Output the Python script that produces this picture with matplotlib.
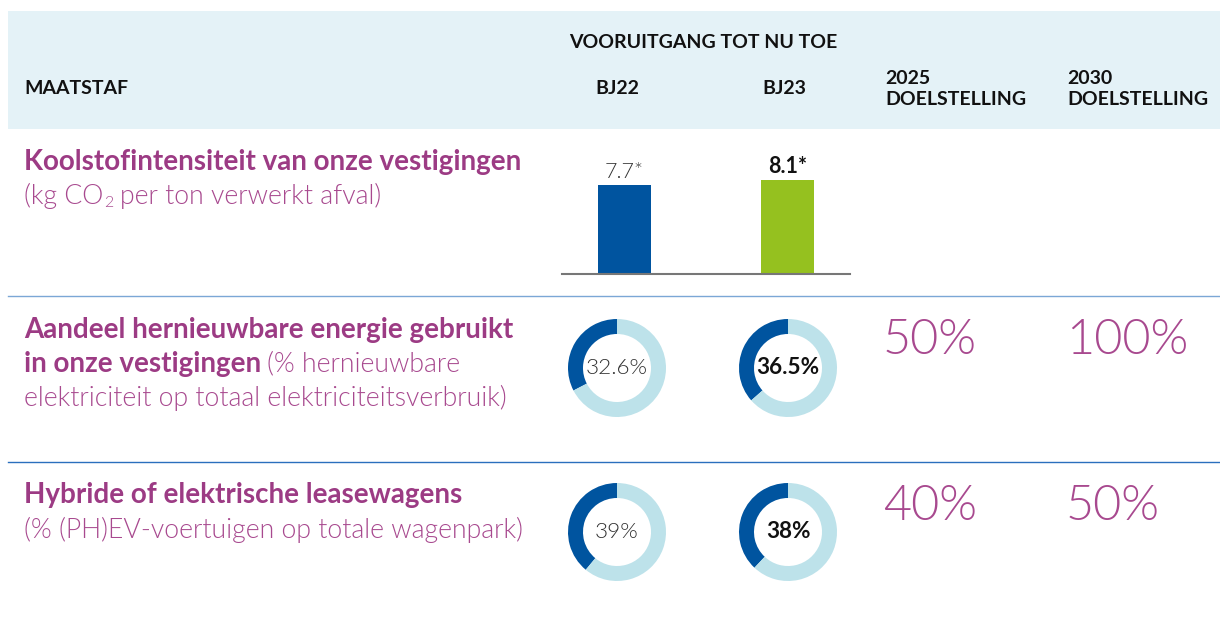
import matplotlib.pyplot as plt

# data
years = ["BJ22", "BJ23"]
carbon = [7.7, 8.1]
carbon_labels = ["7.7*", "8.1*"]
renewable = [32.6, 36.5]
renewable_labels = ["32.6%", "36.5%"]
ev_share = [39, 38]
ev_labels = ["39%", "38%"]
targets_2025 = ["50%", "40%"]
targets_2030 = ["100%", "50%"]

W, H = 1220, 622
PURPLE = "#9c3b84"
PURPLE_L = "#a8498f"
DBLUE = "#00549f"
LBLUE = "#bde2ea"
GREEN = "#95c11f"
LIGHT = 300

plt.rcParams['font.family'] = ['Lato', 'DejaVu Sans']

fig = plt.figure(figsize=(W / 100, H / 100), dpi=100)
ax = fig.add_axes([0, 0, 1, 1])
ax.set_xlim(0, W)
ax.set_ylim(H, 0)
ax.axis("off")


def px_axes(x0, y0, x1, y1):
    # axes from pixel box (top-left origin)
    return fig.add_axes([x0 / W, 1 - y1 / H, (x1 - x0) / W, (y1 - y0) / H])


# header band
ax.add_patch(plt.Rectangle((8, 11), W - 8, 118, color="#e4f2f7", lw=0))
hdr = dict(fontsize=14, fontweight="bold", color="#111111", va="center")
ax.text(24, 88, "MAATSTAF", ha="left", **hdr)
ax.text(703, 42, "VOORUITGANG TOT NU TOE", ha="center", **hdr)
ax.text(617, 88, years[0], ha="center", **hdr)
ax.text(784, 88, years[1], ha="center", **hdr)
ax.text(885, 89, "2025\nDOELSTELLING", ha="left", linespacing=1.25, **hdr)
ax.text(1067, 89, "2030\nDOELSTELLING", ha="left", linespacing=1.25, **hdr)

# separators
ax.plot([8, W], [296, 296], color="#7ba7d6", lw=1)
ax.plot([8, W], [462, 462], color="#2a6fbd", lw=1)

# row titles
tb = dict(fontsize=20, fontweight="bold", color=PURPLE, va="center", ha="left")
tl = dict(fontsize=19.2, fontweight=LIGHT, color=PURPLE_L, va="center", ha="left")


def after(t):
    fig.canvas.draw()
    x = t.get_window_extent().x1
    return ax.transData.inverted().transform((x, 0))[0]


ax.text(24, 162, "Koolstofintensiteit van onze vestigingen", **tb)
t = ax.text(24, 196, "(kg CO", **tl)
t = ax.text(after(t) + 1, 203, "2", **{**tl, "fontsize": 11.5})
ax.text(after(t) + 6, 196, "per ton verwerkt afval)", **tl)

ax.text(24, 330, "Aandeel hernieuwbare energie gebruikt", **tb)
t = ax.text(24, 364, "in onze vestigingen", **tb)
ax.text(after(t) + 6, 364, "(% hernieuwbare", **tl)
ax.text(24, 398, "elektriciteit op totaal elektriciteitsverbruik)", **tl)

ax.text(24, 495, "Hybride of elektrische leasewagens", **tb)
ax.text(24, 530, "(% (PH)EV-voertuigen op totale wagenpark)", **tl)

# bar chart
bax = px_axes(562, 140, 850, 274)
bax.bar([0, 1], carbon, width=0.325, color=[DBLUE, GREEN])
bax.set_xlim(-0.383, 1.383)
bax.set_ylim(0, 134 / 11.55)
for s in ["top", "left", "right"]:
    bax.spines[s].set_visible(False)
bax.spines["bottom"].set_color("#777777")
bax.spines["bottom"].set_linewidth(1.5)
bax.set_xticks([])
bax.set_yticks([])
bax.patch.set_alpha(0)
bax.text(0, carbon[0] + 0.3, carbon_labels[0], ha="center", va="bottom",
         fontsize=15.5, fontweight=LIGHT, color="#333333")
bax.text(1, carbon[1] + 0.3, carbon_labels[1], ha="center", va="bottom",
         fontsize=15.5, fontweight="bold", color="#111111")


def donut(cx, cy, val, label, bold):
    dax = px_axes(cx - 50, cy - 50, cx + 50, cy + 50)
    dax.pie([val, 100 - val], colors=[DBLUE, LBLUE], startangle=90,
            counterclock=True, radius=0.98,
            wedgeprops=dict(width=0.3, linewidth=0))
    dax.set_xlim(-1, 1)
    dax.set_ylim(-1, 1)
    dax.text(0, 0, label, ha="center", va="center", fontsize=16.2,
             fontweight="bold" if bold else LIGHT,
             color="#111111" if bold else "#333333")


donut(617, 368, renewable[0], renewable_labels[0], False)
donut(788, 368, renewable[1], renewable_labels[1], True)
donut(617, 532, ev_share[0], ev_labels[0], False)
donut(788, 532, ev_share[1], ev_labels[1], True)

# targets
big = dict(fontsize=35, fontweight=LIGHT, color=PURPLE_L, va="center", ha="left")
ax.text(883, 340, targets_2025[0], **big)
ax.text(1066, 340, targets_2030[0], **big)
ax.text(883, 506, targets_2025[1], **big)
ax.text(1066, 506, targets_2030[1], **big)

fig.savefig("out.png", dpi=100)
